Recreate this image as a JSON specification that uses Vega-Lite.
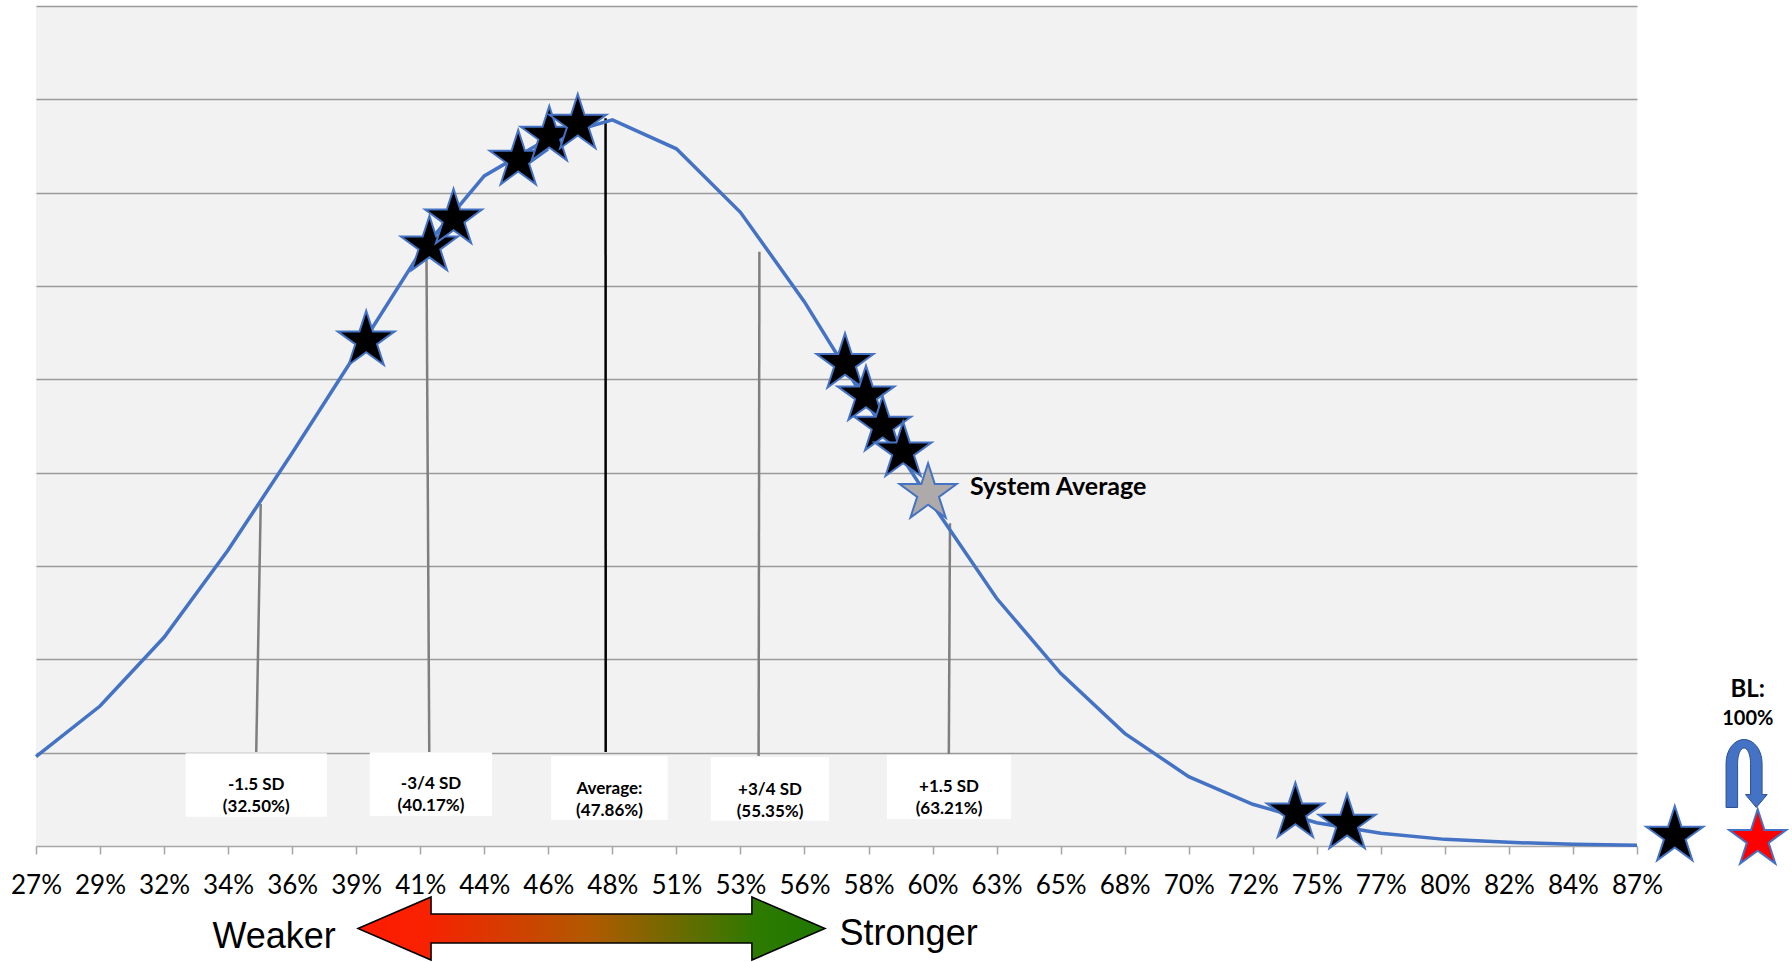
{
  "$schema": "https://vega.github.io/schema/vega-lite/v6.json",
  "width": 1601,
  "height": 840,
  "autosize": {"type": "none"},
  "padding": {"left": 36, "top": 6, "right": 155, "bottom": 116},
  "background": "white",
  "config": {"view": {"fill": "#f2f2f2", "stroke": null}},
  "datasets": {
    "curve": [
      {"i": 0, "v": 0.957}, {"i": 1, "v": 1.5}, {"i": 2, "v": 2.236}, {"i": 3, "v": 3.171},
      {"i": 4, "v": 4.21}, {"i": 5, "v": 5.28}, {"i": 6, "v": 6.36}, {"i": 7, "v": 7.18},
      {"i": 8, "v": 7.58}, {"i": 9, "v": 7.78}, {"i": 10, "v": 7.47}, {"i": 11, "v": 6.79},
      {"i": 12, "v": 5.83}, {"i": 13, "v": 4.72}, {"i": 14, "v": 3.66}, {"i": 15, "v": 2.654},
      {"i": 16, "v": 1.85}, {"i": 17, "v": 1.207}, {"i": 18, "v": 0.743}, {"i": 19, "v": 0.447},
      {"i": 20, "v": 0.25}, {"i": 21, "v": 0.136}, {"i": 22, "v": 0.071}, {"i": 23, "v": 0.039},
      {"i": 24, "v": 0.018}, {"i": 25, "v": 0.007}
    ],
    "sdlines": [
      {"i": 3.509, "v": 3.664, "i2": 3.439, "v2": 1.007, "kind": "sd"},
      {"i": 6.098, "v": 6.279, "i2": 6.141, "v2": 1.007, "kind": "sd"},
      {"i": 8.894, "v": 7.797, "i2": 8.896, "v2": 1.007, "kind": "avg"},
      {"i": 11.296, "v": 6.368, "i2": 11.284, "v2": 0.964, "kind": "sd"},
      {"i": 14.272, "v": 3.457, "i2": 14.254, "v2": 0.986, "kind": "sd"}
    ],
    "boxes": [
      {"i": 2.336, "i2": 4.542, "v": 0.993, "v2": 0.314},
      {"i": 5.212, "i2": 7.122, "v": 1.004, "v2": 0.321},
      {"i": 8.045, "i2": 9.864, "v": 0.964, "v2": 0.279},
      {"i": 10.537, "i2": 12.383, "v": 0.95, "v2": 0.271},
      {"i": 13.288, "i2": 15.225, "v": 0.975, "v2": 0.289}
    ],
    "boxlabels": [
      {"i": 3.439, "v": 0.654, "label": "-1.5 SD\n(32.50%)"},
      {"i": 6.168, "v": 0.664, "label": "-3/4 SD\n(40.17%)"},
      {"i": 8.955, "v": 0.611, "label": "Average:\n(47.86%)"},
      {"i": 11.462, "v": 0.6, "label": "+3/4 SD\n(55.35%)"},
      {"i": 14.257, "v": 0.627, "label": "+1.5 SD\n(63.21%)"}
    ],
    "stars": [
      {"i": 5.156, "v": 5.414, "kind": "unit"},
      {"i": 6.143, "v": 6.43, "kind": "unit"},
      {"i": 6.52, "v": 6.72, "kind": "unit"},
      {"i": 7.53, "v": 7.35, "kind": "unit"},
      {"i": 8.015, "v": 7.607, "kind": "unit"},
      {"i": 8.46, "v": 7.736, "kind": "unit"},
      {"i": 12.633, "v": 5.172, "kind": "unit"},
      {"i": 12.96, "v": 4.825, "kind": "unit"},
      {"i": 13.22, "v": 4.5, "kind": "unit"},
      {"i": 13.54, "v": 4.225, "kind": "unit"},
      {"i": 13.93, "v": 3.779, "kind": "system"},
      {"i": 19.665, "v": 0.357, "kind": "unit"},
      {"i": 20.473, "v": 0.236, "kind": "unit"},
      {"i": 25.59, "v": 0.107, "kind": "unit"},
      {"i": 26.885, "v": 0.072, "kind": "bl"}
    ]
  },
  "encoding": {
    "x": {
      "field": "i", "type": "quantitative",
      "scale": {"domain": [0, 25], "nice": false, "zero": false},
      "axis": {
        "values": [0,1,2,3,4,5,6,7,8,9,10,11,12,13,14,15,16,17,18,19,20,21,22,23,24,25],
        "labelExpr": "['27%','29%','32%','34%','36%','39%','41%','44%','46%','48%','51%','53%','56%','58%','60%','63%','65%','68%','70%','72%','75%','77%','80%','82%','84%','87%'][datum.value]",
        "labelFont": "Lato", "labelFontSize": 26, "labelColor": "#000000",
        "labelPadding": 18, "labelFlush": false, "labelOverlap": false, "labelBound": false,
        "tickSize": 8, "tickColor": "#a6a6a6", "tickWidth": 1.5,
        "domainColor": "#a6a6a6", "domainWidth": 1.5,
        "grid": false, "title": null
      }
    },
    "y": {
      "field": "v", "type": "quantitative",
      "scale": {"domain": [0, 9], "nice": false, "zero": false},
      "axis": {
        "values": [1, 2, 3, 4, 5, 6, 7, 8, 9],
        "grid": true, "gridColor": "#9a9a9a", "gridWidth": 1.5, "gridOpacity": 1,
        "labels": false, "ticks": false, "domain": false, "title": null
      }
    }
  },
  "layer": [
    {
      "data": {"name": "sdlines"},
      "mark": {"type": "rule", "strokeWidth": 2.5},
      "encoding": {
        "x2": {"field": "i2"},
        "y2": {"field": "v2"},
        "color": {"field": "kind", "type": "nominal", "scale": {"domain": ["sd", "avg"], "range": ["#7f7f7f", "#000000"]}, "legend": null}
      }
    },
    {
      "data": {"name": "boxes"},
      "mark": {"type": "rect", "color": "#ffffff"},
      "encoding": {"x2": {"field": "i2"}, "y2": {"field": "v2"}}
    },
    {
      "data": {"name": "boxlabels"},
      "mark": {"type": "text", "font": "Lato", "fontWeight": "bold", "fontSize": 17, "lineBreak": "\n", "lineHeight": 22, "align": "center", "baseline": "middle", "color": "#000000"},
      "encoding": {"text": {"field": "label"}}
    },
    {
      "data": {"name": "curve"},
      "mark": {"type": "line", "color": "#4472c4", "strokeWidth": 3.5}
    },
    {
      "data": {"name": "stars"},
      "mark": {
        "type": "point", "filled": true, "opacity": 1, "size": 3600,
        "shape": "M0,-1L0.2245,-0.309L0.9511,-0.309L0.3633,0.118L0.5878,0.809L0,0.382L-0.5878,0.809L-0.3633,0.118L-0.9511,-0.309L-0.2245,-0.309Z",
        "stroke": "#4472c4", "strokeWidth": 2
      },
      "encoding": {
        "fill": {"field": "kind", "type": "nominal", "scale": {"domain": ["unit", "system", "bl"], "range": ["#000000", "#aeaaaa", "#ff0000"]}, "legend": null}
      }
    },
    {
      "data": {"values": [{"i": 14.584, "v": 3.761, "label": "System Average"}]},
      "mark": {"type": "text", "font": "Lato", "fontWeight": "bold", "fontSize": 25, "align": "left", "baseline": "alphabetic", "color": "#000000"},
      "encoding": {"text": {"field": "label"}}
    },
    {
      "data": {"values": [{"i": 3.719, "v": -1.093, "label": "Weaker"}, {"i": 13.626, "v": -1.061, "label": "Stronger"}]},
      "mark": {"type": "text", "font": "Liberation Sans", "fontSize": 36, "align": "center", "baseline": "alphabetic", "color": "#000000"},
      "encoding": {"text": {"field": "label"}}
    },
    {
      "data": {"values": [{"i": 26.73, "v": 1.6, "label": "BL:"}]},
      "mark": {"type": "text", "font": "Lato", "fontWeight": "bold", "fontSize": 24, "align": "center", "baseline": "alphabetic", "color": "#000000"},
      "encoding": {"text": {"field": "label"}}
    },
    {
      "data": {"values": [{"i": 26.73, "v": 1.296, "label": "100%"}]},
      "mark": {"type": "text", "font": "Lato", "fontWeight": "bold", "fontSize": 20, "align": "center", "baseline": "alphabetic", "color": "#000000"},
      "encoding": {"text": {"field": "label"}}
    },
    {
      "data": {"values": [{"i": 8.674, "v": -0.884, "label": "scale"}]},
      "mark": {
        "type": "point", "filled": true, "opacity": 1, "size": 218089,
        "shape": "M-1,0L-0.687,-0.135L-0.687,-0.062L0.687,-0.062L0.687,-0.135L1,0L0.687,0.135L0.687,0.062L-0.687,0.062L-0.687,0.135Z",
        "fill": {"gradient": "linear", "x1": 0, "y1": 0, "x2": 1, "y2": 0, "stops": [
          {"offset": 0, "color": "#ff1a00"}, {"offset": 0.15, "color": "#f72200"},
          {"offset": 0.5, "color": "#b05a00"}, {"offset": 0.85, "color": "#2e7a00"}, {"offset": 1, "color": "#1e7800"}
        ]},
        "stroke": "#000000", "strokeWidth": 1.5
      }
    },
    {
      "data": {"values": [{"i": 26.725, "v": 0.777, "label": "uturn"}]},
      "mark": {
        "type": "point", "filled": true, "opacity": 1, "size": 4624,
        "shape": "M-0.63,1L-0.63,-0.3C-0.63,-0.6866,-0.3927,-1,-0.1,-1C0.1927,-1,0.43,-0.6866,0.43,-0.3L0.43,0.62L0.58,0.62L0.26,1L-0.06,0.62L0.09,0.62L0.09,-0.3C0.09,-0.5485,0.0049,-0.75,-0.1,-0.75C-0.2049,-0.75,-0.29,-0.5485,-0.29,-0.3L-0.29,1Z",
        "fill": "#4472c4", "stroke": "#2f528f", "strokeWidth": 1
      }
    }
  ]
}
